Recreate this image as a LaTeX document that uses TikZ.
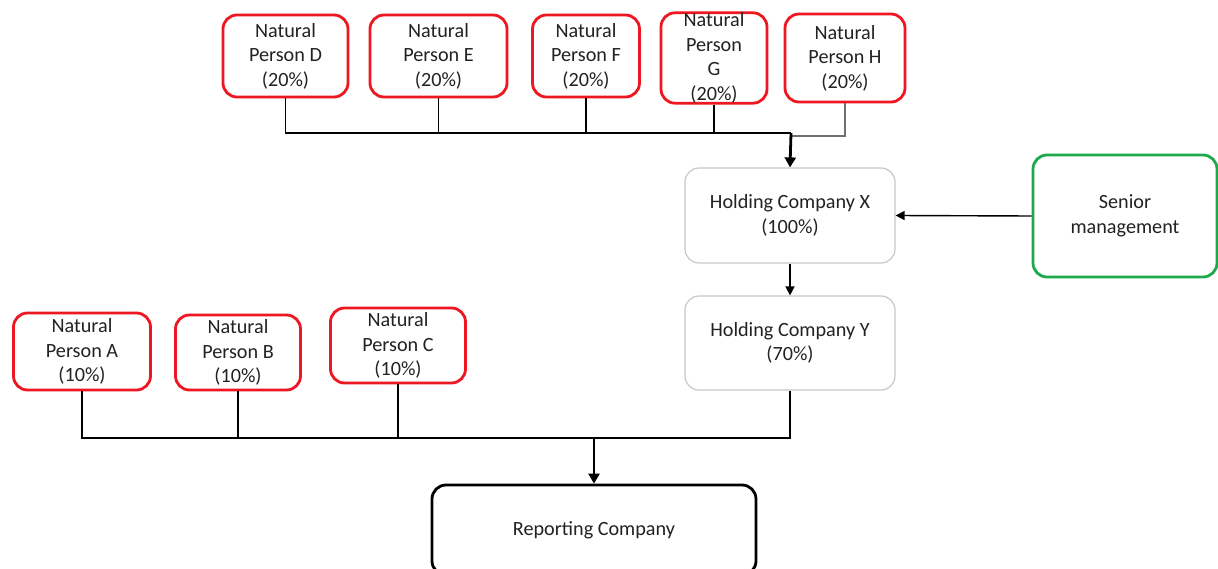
\documentclass[tikz,border=0pt]{standalone}
\usepackage{fontspec}
\setmainfont{Carlito}
\usetikzlibrary{arrows.meta}

\definecolor{personred}{HTML}{EE1620}
\definecolor{mgmtgreen}{HTML}{1DA84A}
\definecolor{holdgray}{HTML}{C8C8C8}
\definecolor{linkgray}{HTML}{707070}
\definecolor{txt}{HTML}{222222}

\tikzset{
  box/.style={rectangle, rounded corners=14pt, align=center, text=txt,
    font=\fontsize{20.2}{24.5}\selectfont, inner sep=0pt},
  person/.style={box, draw=personred, line width=2.8pt},
  holding/.style={box, draw=holdgray, line width=1.2pt},
  mgmt/.style={box, draw=mgmtgreen, line width=2.8pt},
  report/.style={box, draw=black, line width=2.8pt},
  conn/.style={draw=black, line width=1.4pt},
  arr/.style={conn, -{Triangle[length=9pt,width=9pt]}},
  mainarr/.style={draw=black, line width=2.8pt, -{Triangle[length=10pt,width=11pt]}},
}

\begin{document}
\begin{tikzpicture}[x=1pt, y=-1pt]
  \useasboundingbox[fill=white] (0,0) rectangle (1218,569);

  % upper shareholders
  \node[person, minimum width=125pt, minimum height=82pt] (D) at (285.5,56)  {Natural\\Person D\\(20\%)};
  \node[person, minimum width=137pt, minimum height=82pt] (E) at (438.5,56)  {Natural\\Person E\\(20\%)};
  \node[person, minimum width=107pt, minimum height=82pt] (F) at (586,56)    {Natural\\Person F\\(20\%)};
  \node[person, minimum width=106pt, minimum height=88pt] (G) at (714,58)    {Natural\\Person\\G\\(20\%)};
  \node[person, minimum width=120pt, minimum height=88pt] (H) at (845,58)    {Natural\\Person H\\(20\%)};

  % holding chain and management
  \node[holding, minimum width=210pt, minimum height=95pt] (X) at (790,215.5) {Holding Company X\\(100\%)};
  \node[holding, minimum width=210pt, minimum height=94pt] (Y) at (790,343)   {Holding Company Y\\(70\%)};
  \node[mgmt, minimum width=184pt, minimum height=122pt] (S) at (1125,216)   {Senior\\management};

  % lower shareholders
  \node[person, minimum width=137pt, minimum height=77pt] (A) at (82,351.5)  {Natural\\Person A\\(10\%)};
  \node[person, minimum width=125pt, minimum height=75pt] (B) at (238,352.5) {Natural\\Person B\\(10\%)};
  \node[person, minimum width=135pt, minimum height=75pt] (C) at (398,345.5) {Natural\\Person C\\(10\%)};

  % reporting company
  \node[report, minimum width=324pt, minimum height=90pt] (R) at (594,530) {Reporting Company};

  % junction points
  \coordinate (jt) at (791,133);
  \coordinate (jh) at (791,136);
  \coordinate (jb) at (594,438);

  % top ownership lines
  \draw[conn] (D.south) |- (jt);
  \draw[conn] (E.south) |- (jt);
  \draw[conn] (F.south) |- (jt);
  \draw[conn] (G.south) |- (jt);
  \draw[conn, draw=linkgray] (H.south) |- (jh);
  \draw[mainarr] (jt) -- (X.north);

  % holding chain
  \draw[arr] (X.south) -- (Y.north);
  \draw[arr] (S.west) -- (X.east);

  % bottom ownership lines
  \draw[conn] (A.south) |- (jb);
  \draw[conn] (B.south) |- (jb);
  \draw[conn] (C.south) |- (jb);
  \draw[conn] (Y.south) |- (jb);
  \draw[mainarr] (jb) -- (R.north);
\end{tikzpicture}
\end{document}
